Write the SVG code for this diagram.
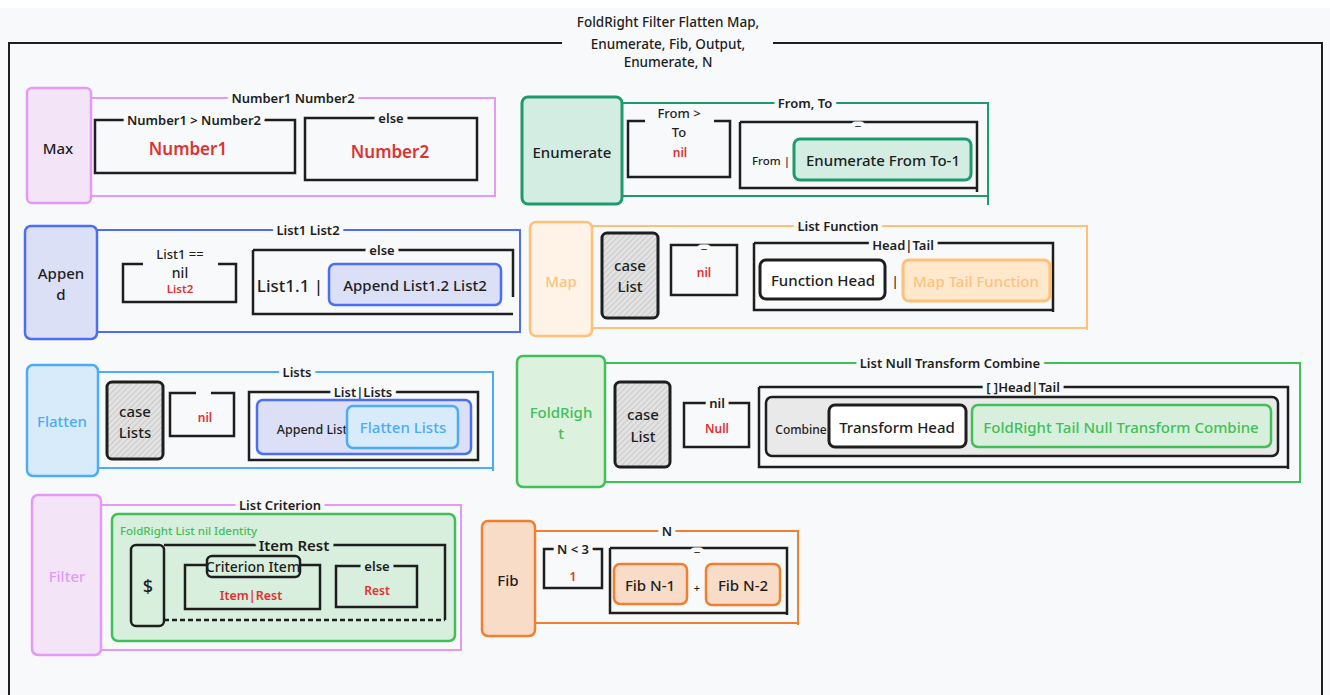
<svg xmlns="http://www.w3.org/2000/svg" width="1330" height="695" viewBox="0 0 1330 695">
<defs>
<pattern id="hatch" width="4" height="4" patternUnits="userSpaceOnUse" patternTransform="rotate(45)">
<rect width="4" height="4" fill="#e2e2e2"/>
<line x1="0" y1="0" x2="0" y2="4" stroke="#b8b8b8" stroke-width="1.2"/>
</pattern>
<style>
.t{font-family:"Noto Sans","Liberation Sans",sans-serif;fill:#1e1e1e;text-anchor:middle;dominant-baseline:central;font-weight:500}
.lbl{font-size:13px;font-weight:600;stroke:#f8f9fa;stroke-width:9;paint-order:stroke;stroke-linejoin:round}
.lg{font-size:13px;font-weight:600;stroke:#d9efdd;stroke-width:9;paint-order:stroke;stroke-linejoin:round}
.red{fill:#e03131;font-weight:600}
.k{fill:none;stroke:#1e1e1e;stroke-width:2.5}
.pink{fill:#f3e5f7;stroke:#e599f7;stroke-width:2.5}
.teal{fill:#d4ede3;stroke:#1e9a6c;stroke-width:3}
.blue{fill:#dbe0f7;stroke:#4c6ef5;stroke-width:2.5}
.lorange{fill:#fef3e6;stroke:#ffc078;stroke-width:2.5}
.lblue{fill:#d7ebfa;stroke:#4dabf7;stroke-width:2.5}
.green{fill:#d9efdd;stroke:#40c057;stroke-width:2.5}
.orange{fill:#f9dcc8;stroke:#f08030;stroke-width:2.5}
.case{fill:url(#hatch);stroke:#1e1e1e;stroke-width:3}
.white{fill:#ffffff;stroke:#1e1e1e;stroke-width:3}
</style>
</defs>
<rect x="0" y="0" width="1330" height="695" fill="#ffffff"/>
<rect x="0" y="8" width="1330" height="687" fill="#f8f9fa"/>

<g id="title">
<path d="M9 695 V43 H562 M773 43 H1322 V695" fill="none" stroke="#1e1e1e" stroke-width="2"/>
<text class="t" x="668" y="22" font-size="13.5" font-weight="600">FoldRight Filter Flatten Map,</text>
<text class="t" x="668" y="44" font-size="13.5" font-weight="600">Enumerate, Fib, Output,</text>
<text class="t" x="668" y="62" font-size="13.5" font-weight="600">Enumerate, N</text>
</g>

<g id="connectors" fill="none" stroke-width="2">
<path d="M91 98 H495 V196 H91" stroke="#e599f7"/>
<path d="M622 103 H988 V205 M622 196 H988" stroke="#1e9a6c"/>
<path d="M97 230 H520 V332 H97" stroke="#4c6ef5"/>
<path d="M592 226 H1087 V330 M592 328 H1087" stroke="#ffc078"/>
<path d="M98 372 H493 V471 M98 468 H493" stroke="#4dabf7"/>
<path d="M605 363 H1300 V482 H605" stroke="#40c057"/>
<path d="M101 505 H461 V650 H101" stroke="#e599f7"/>
<path d="M535 531 H798 V625 M535 623 H798" stroke="#f08030"/>
</g>

<g id="max">
<rect class="pink" x="27" y="88" width="64" height="115" rx="5"/>
<text class="t" x="58" y="148" font-size="15">Max</text>
<text class="t lbl" x="293" y="98">Number1 Number2</text>
<rect class="k" x="95" y="120" width="200" height="53"/>
<text class="t lbl" x="194" y="120">Number1 &gt; Number2</text>
<text class="t red" x="188" y="148" font-size="17">Number1</text>
<rect class="k" x="305" y="118" width="172" height="62"/>
<text class="t lbl" x="391" y="118">else</text>
<text class="t red" x="390" y="151" font-size="17">Number2</text>
</g>

<g id="enumerate">
<rect class="teal" x="522" y="97" width="100" height="107" rx="6"/>
<text class="t" x="572" y="152" font-size="15">Enumerate</text>
<rect x="776" y="95" width="59" height="16" fill="#f8f9fa"/>
<text class="t lbl" x="805" y="103">From, To</text>
<path class="k" d="M645 121 H628 V177 H730 V121 H714"/>
<text class="t" x="679" y="113" font-size="13" font-weight="600">From &gt;</text>
<text class="t" x="679" y="132" font-size="13" font-weight="600">To</text>
<text class="t red" x="680" y="152" font-size="12">nil</text>
<path class="k" d="M740 122 H977 V192 M740 122 V188 H977"/>
<text class="t lbl" x="858" y="120">_</text>
<text class="t" x="771" y="160" font-size="11.5">From |</text>
<rect class="teal" x="794" y="139" width="177" height="41" rx="6"/>
<text class="t" x="883" y="160" font-size="15">Enumerate From To-1</text>
</g>

<g id="append">
<rect class="blue" x="25" y="226" width="72" height="113" rx="6"/>
<text class="t" x="61" y="273" font-size="15">Appen</text>
<text class="t" x="61" y="294" font-size="15">d</text>
<text class="t lbl" x="308" y="230">List1 List2</text>
<path class="k" d="M143 264 H123 V302 H236 V264 H218"/>
<text class="t" x="180" y="254" font-size="13" font-weight="600">List1 ==</text>
<text class="t" x="180" y="272" font-size="14">nil</text>
<text class="t red" x="180" y="288" font-size="11.5">List2</text>
<path class="k" d="M253 250 H513 V297 M253 250 V314 H513"/>
<text class="t lbl" x="382" y="250">else</text>
<text class="t" x="290" y="285" font-size="17">List1.1 |</text>
<rect class="blue" x="329" y="264" width="172" height="41" rx="6" stroke-width="3"/>
<text class="t" x="415" y="285" font-size="15">Append List1.2 List2</text>
</g>

<g id="map">
<rect class="lorange" x="530" y="222" width="62" height="114" rx="6"/>
<text class="t" x="561" y="281" font-size="15" style="fill:#fcc27f">Map</text>
<text class="t lbl" x="838" y="226">List Function</text>
<rect class="case" x="602" y="233" width="56" height="85" rx="5"/>
<text class="t" x="630" y="265" font-size="15">case</text>
<text class="t" x="630" y="286" font-size="15">List</text>
<rect class="k" x="671" y="245" width="66" height="50"/>
<text class="t lbl" x="704" y="243">_</text>
<text class="t red" x="704" y="272" font-size="12">nil</text>
<path class="k" d="M754 243 H1053 V312 M754 243 V310 H1053"/>
<text class="t lbl" x="903" y="245">Head|Tail</text>
<rect class="white" x="760" y="260" width="125" height="39" rx="6"/>
<text class="t" x="823" y="280" font-size="15">Function Head</text>
<text class="t" x="895" y="281" font-size="13">|</text>
<rect x="903" y="260" width="147" height="41" rx="6" fill="#ffe8cc" stroke="#ffc078" stroke-width="3"/>
<text class="t" x="976" y="281" font-size="15" style="fill:#fcc27f">Map Tail Function</text>
</g>

<g id="flatten">
<rect class="lblue" x="27" y="365" width="71" height="111" rx="6"/>
<text class="t" x="62" y="421" font-size="15" style="fill:#4dabf7">Flatten</text>
<text class="t lbl" x="297" y="372">Lists</text>
<rect class="case" x="107" y="382" width="56" height="77" rx="5"/>
<text class="t" x="135" y="411" font-size="15">case</text>
<text class="t" x="135" y="432" font-size="15">Lists</text>
<path class="k" d="M196 393 H170 V436 H234 V393 H211"/>
<text class="t red" x="205" y="417" font-size="12">nil</text>
<rect class="k" x="249" y="392" width="229" height="68"/>
<text class="t lbl" x="363" y="392">List|Lists</text>
<rect class="blue" x="257" y="400" width="214" height="54" rx="6" stroke-width="3"/>
<text class="t" x="312" y="429" font-size="12.5">Append List</text>
<rect class="lblue" x="347" y="406" width="111" height="42" rx="6" stroke-width="3"/>
<text class="t" x="403" y="427" font-size="15" style="fill:#4dabf7">Flatten Lists</text>
</g>

<g id="foldright">
<rect class="green" x="517" y="356" width="88" height="131" rx="6" style="fill:#dcf2de"/>
<text class="t" x="561" y="412" font-size="15" style="fill:#40c057">FoldRigh</text>
<text class="t" x="561" y="433" font-size="15" style="fill:#40c057">t</text>
<text class="t lbl" x="950" y="363">List Null Transform Combine</text>
<rect class="case" x="615" y="382" width="55" height="85" rx="5"/>
<text class="t" x="643" y="414" font-size="15">case</text>
<text class="t" x="643" y="436" font-size="15">List</text>
<rect class="k" x="684" y="403" width="65" height="44"/>
<text class="t lbl" x="717" y="403">nil</text>
<text class="t red" x="717" y="428" font-size="12">Null</text>
<path class="k" d="M759 387 H1288 V469 M759 387 V467 H1288"/>
<text class="t lbl" x="1023" y="387">[ ]Head|Tail</text>
<rect x="766" y="397" width="512" height="59" rx="6" fill="#e9e9e9" stroke="#1e1e1e" stroke-width="2.5"/>
<text class="t" x="801" y="429" font-size="12">Combine</text>
<rect class="white" x="829" y="405" width="137" height="42" rx="6"/>
<text class="t" x="897" y="427" font-size="15">Transform Head</text>
<rect class="green" x="972" y="405" width="299" height="42" rx="6" stroke-width="3"/>
<text class="t" x="1121" y="427" font-size="15" style="fill:#40c057">FoldRight Tail Null Transform Combine</text>
</g>

<g id="filter">
<rect class="pink" x="32" y="495" width="69" height="160" rx="6"/>
<text class="t" x="67" y="576" font-size="15" style="fill:#e599f7">Filter</text>
<text class="t lbl" x="280" y="505">List Criterion</text>
<rect class="green" x="112" y="514" width="343" height="127" rx="6" stroke-width="3"/>
<text class="t" x="120" y="530" font-size="11.5" style="fill:#40c057;text-anchor:start">FoldRight List nil Identity</text>
<path class="k" d="M164 545 H445 V620"/>
<path d="M164 620 H445" fill="none" stroke="#1e1e1e" stroke-width="2.5" stroke-dasharray="5 3"/>
<text class="t lg" x="294" y="545" style="font-size:15px">Item Rest</text>
<rect class="k" x="131" y="545" width="33" height="81" rx="5"/>
<text class="t" x="148" y="586" font-size="18" font-weight="600">$</text>
<rect class="k" x="185" y="565" width="135" height="44"/>
<rect x="207" y="556" width="93" height="21" rx="5" fill="#d9efdd" stroke="#1e1e1e" stroke-width="2.5"/>
<text class="t" x="253" y="566" font-size="14">Criterion Item</text>
<text class="t red" x="251" y="595" font-size="12.5">Item|Rest</text>
<rect class="k" x="336" y="566" width="81" height="41"/>
<text class="t lg" x="377" y="566">else</text>
<text class="t red" x="377" y="590" font-size="12">Rest</text>
</g>

<g id="fib">
<rect class="orange" x="482" y="521" width="53" height="115" rx="6"/>
<text class="t" x="508" y="580" font-size="15">Fib</text>
<text class="t lbl" x="667" y="531">N</text>
<rect class="k" x="544" y="549" width="58" height="39"/>
<text class="t lbl" x="573" y="549">N &lt; 3</text>
<text class="t red" x="573" y="576" font-size="12">1</text>
<path class="k" d="M610 548 H787 V615 M610 548 V613 H787"/>
<text class="t lbl" x="697" y="546">_</text>
<rect class="orange" x="614" y="564" width="73" height="40" rx="6" stroke-width="3"/>
<text class="t" x="650" y="585" font-size="15">Fib N-1</text>
<text class="t" x="697" y="587" font-size="11">+</text>
<rect class="orange" x="706" y="564" width="74" height="41" rx="6" stroke-width="3"/>
<text class="t" x="743" y="585" font-size="15">Fib N-2</text>
</g>
</svg>
